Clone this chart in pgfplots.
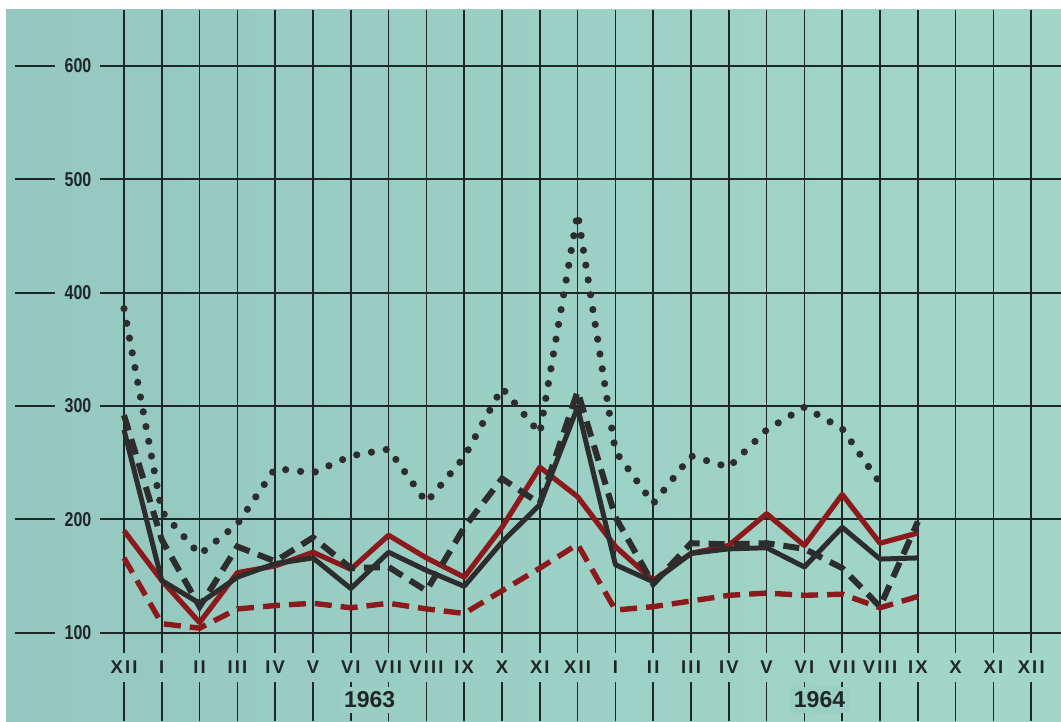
\documentclass[border=0pt]{standalone}
\usepackage{pgfplots}
\usepackage{pgfplotstable}
\pgfplotsset{compat=1.18}
\usepackage{fontspec}
\setmainfont{Liberation Sans}

\definecolor{paperL}{RGB}{148,200,192}
\definecolor{paperR}{RGB}{162,215,200}
\definecolor{paper}{RGB}{154,207,195}
\definecolor{ink}{RGB}{30,38,38}
\definecolor{dark}{RGB}{45,45,45}
\definecolor{wine}{RGB}{140,26,28}

% months from XII 1962 (0) to IX 1964 (21)
\pgfplotstableread{
i  dotted dashed solid red reddash
0  386    292    279   190  166
1  207    182    146   146  108
2  169    123    126   109  104
3  196    176    149   153  121
4  245    163    161   159  124
5  241    184    166   171  126
6  256    157    139   156  122
7  262    158    171   186  126
8  215    137    155   166  121
9  255    193    141   149  117
10 316    236    180   193  137
11 276    214    213   246  157
12 470    313    299   220  178
13 260    202    160   176  120
14 214    143    145   146  123
15 256    179    170   170  128
16 246    178    174   177  133
17 279    179    175   205  135
18 299    174    158   177  133
19 280    157    193   222  134
20 232    123    165   179  122
21 nan    198    166   188  132
}\data

\tikzset{
  ylab/.style={font=\bfseries\fontsize{10}{11}\selectfont\addfontfeature{FakeStretch=0.8}, text=ink, inner sep=0pt},
  mon/.style={font=\bfseries\fontsize{9.2}{10}\selectfont\addfontfeature{LetterSpace=12}, text=ink, inner sep=0pt},
  yr/.style={font=\bfseries\fontsize{11.5}{13}\selectfont, text=ink, fill=paper, inner sep=2.5pt},
}

\begin{document}
\begin{tikzpicture}
\begin{axis}[
  width=530.5pt, height=360.5pt, scale only axis,
  xmin=-3.2804, xmax=24.788, ymin=22.1, ymax=658.3,
  hide axis, clip=true,
]
% white margin and paper
\fill[white] (axis cs:-3.2804,22.1) rectangle (axis cs:24.788,658.3);
\shade[left color=paperL, right color=paperR] (axis cs:-3.12,22.1) rectangle (axis cs:24.788,649.5);

% vertical rulings, broken at the month row
\pgfplotsinvokeforeach{0,...,24}{
  \draw[ink, line width=0.8pt] (axis cs:#1,649.5) -- (axis cs:#1,82.1);
  \draw[ink, line width=0.8pt] (axis cs:#1,56.4) -- (axis cs:#1,22.1);
}
% horizontal rulings and values
\pgfplotsinvokeforeach{100,200,...,600}{
  \draw[ink, line width=1pt] (axis cs:-2.884,#1) -- (axis cs:-1.825,#1);
  \draw[ink, line width=1pt] (axis cs:-0.635,#1) -- (axis cs:24.788,#1);
  \node[ylab] at (axis cs:-1.217,#1) {#1};
}

% month row
\node[mon] at (axis cs:0,69.7) {XII};
\node[mon] at (axis cs:1,69.7) {I};
\node[mon] at (axis cs:2,69.7) {II};
\node[mon] at (axis cs:3,69.7) {III};
\node[mon] at (axis cs:4,69.7) {IV};
\node[mon] at (axis cs:5,69.7) {V};
\node[mon] at (axis cs:6,69.7) {VI};
\node[mon] at (axis cs:7,69.7) {VII};
\node[mon] at (axis cs:8,69.7) {VIII};
\node[mon] at (axis cs:9,69.7) {IX};
\node[mon] at (axis cs:10,69.7) {X};
\node[mon] at (axis cs:11,69.7) {XI};
\node[mon] at (axis cs:12,69.7) {XII};
\node[mon] at (axis cs:13,69.7) {I};
\node[mon] at (axis cs:14,69.7) {II};
\node[mon] at (axis cs:15,69.7) {III};
\node[mon] at (axis cs:16,69.7) {IV};
\node[mon] at (axis cs:17,69.7) {V};
\node[mon] at (axis cs:18,69.7) {VI};
\node[mon] at (axis cs:19,69.7) {VII};
\node[mon] at (axis cs:20,69.7) {VIII};
\node[mon] at (axis cs:21,69.7) {IX};
\node[mon] at (axis cs:22,69.7) {X};
\node[mon] at (axis cs:23,69.7) {XI};
\node[mon] at (axis cs:24,69.7) {XII};

\node[yr] at (axis cs:6.5,40.6) {1963};
\node[yr] at (axis cs:18.4,40.6) {1964};

% series
\addplot[dark, line width=3.6pt, line cap=round, dash pattern=on 0pt off 7.5pt]
  table[x=i, y=dotted] {\data};
\addplot[wine, line width=2.7pt, dash pattern=on 8.5pt off 4.5pt]
  table[x=i, y=reddash] {\data};
\addplot[wine, line width=2.6pt, line join=round]
  table[x=i, y=red] {\data};
\addplot[dark, line width=3pt, dash pattern=on 8pt off 4.5pt]
  table[x=i, y=dashed] {\data};
\addplot[dark, line width=2.5pt, line join=round]
  table[x=i, y=solid] {\data};
\end{axis}
\end{tikzpicture}
\end{document}
